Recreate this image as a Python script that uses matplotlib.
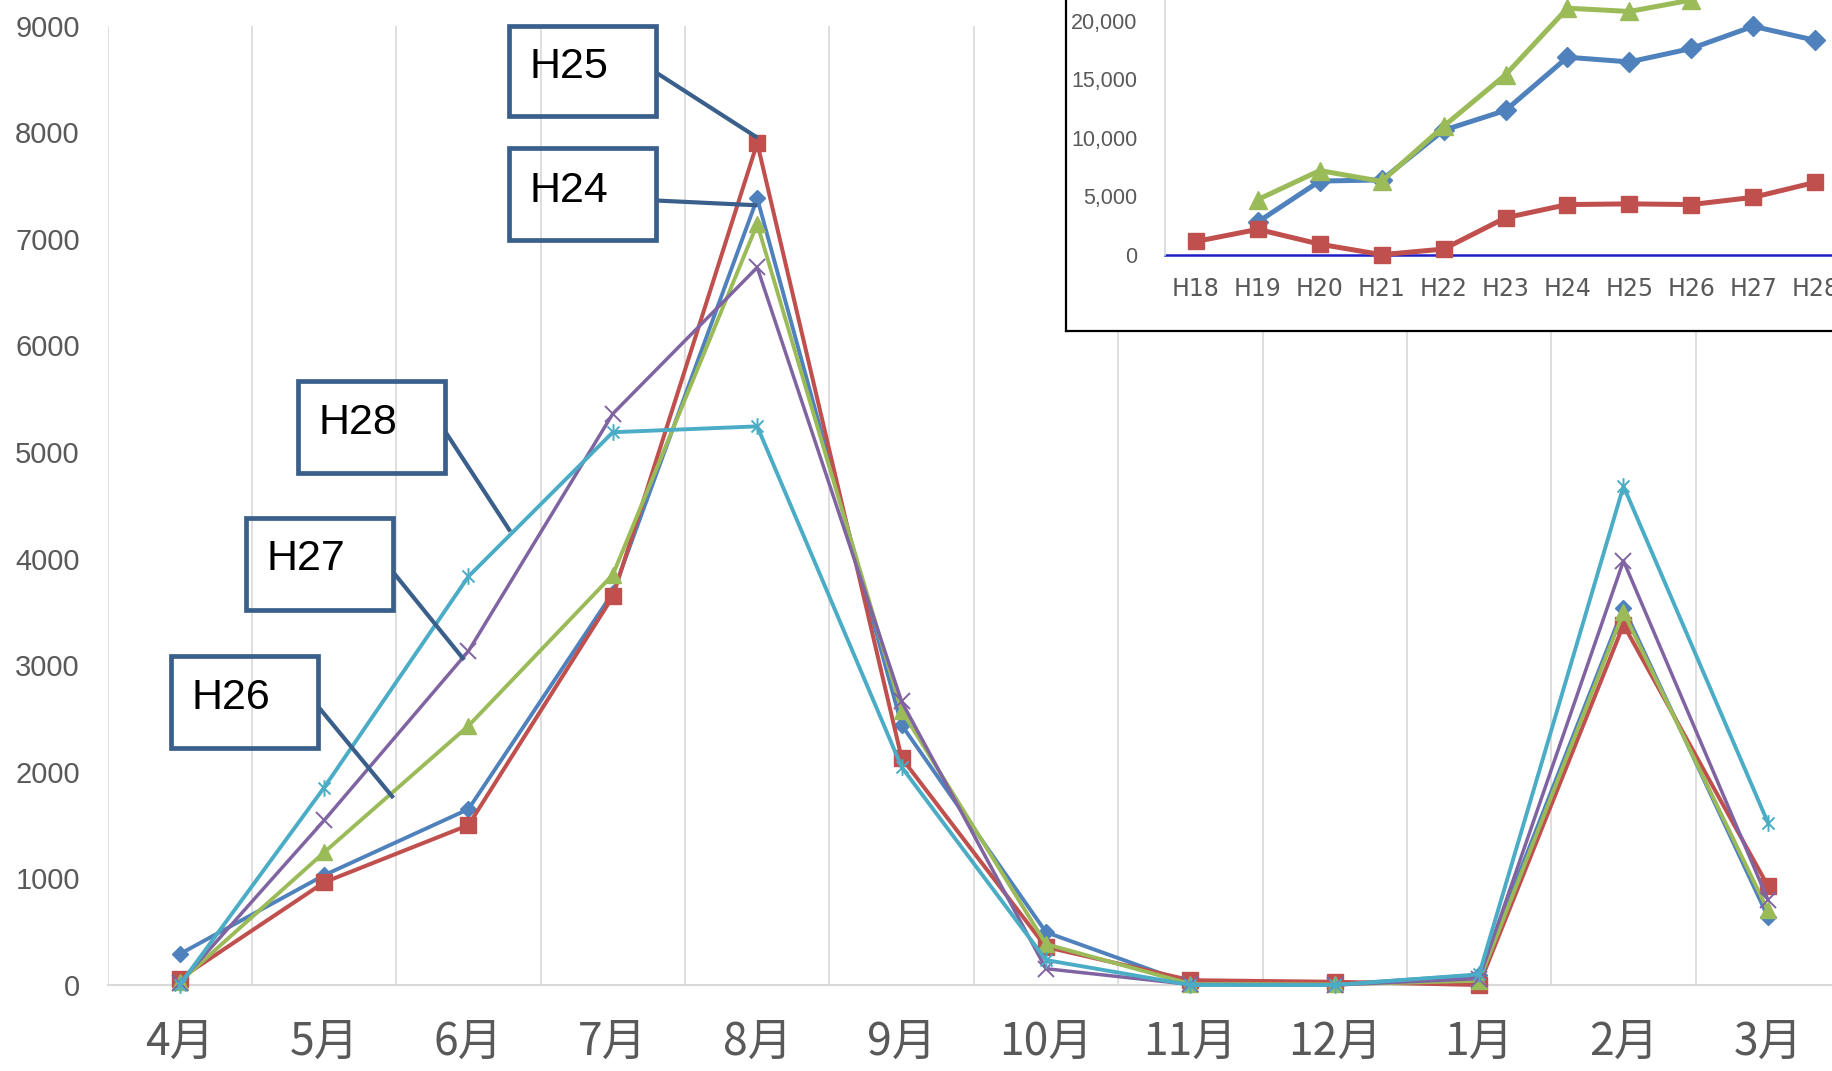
import numpy as np
import matplotlib
matplotlib.use('Agg')
import matplotlib.pyplot as plt
from matplotlib.patches import Rectangle
from matplotlib.path import Path

# 月別データ
months = ['4月', '5月', '6月', '7月', '8月', '9月', '10月', '11月', '12月', '1月', '2月', '3月']
h24 = [290, 1030, 1650, 3680, 7380, 2440, 495, 10, 5, 92, 3540, 640]
h25 = [58, 963, 1500, 3645, 7900, 2130, 356, 45, 30, 0, 3380, 930]
h26 = [30, 1244, 2432, 3849, 7140, 2575, 384, 10, 5, 40, 3497, 700]
h27 = [20, 1544, 3133, 5360, 6732, 2660, 153, 5, 0, 60, 3980, 800]
h28 = [0, 1852, 3833, 5186, 5241, 2045, 234, 0, 0, 100, 4680, 1524]

# 年度別推移 (右上の小さいグラフ)
years = ['H18', 'H19', 'H20', 'H21', 'H22', 'H23', 'H24', 'H25', 'H26', 'H27', 'H28']
trend_blue = [np.nan, 2800, 6300, 6400, 10650, 12350, 16900, 16500, 17650, 19550, 18350]
trend_green = [np.nan, 4720, 7200, 6270, 10990, 15400, 21100, 20820, 21800, 24000, 24500]
trend_red = [1130, 2170, 900, 0, 480, 3160, 4290, 4350, 4290, 4910, 6190]

BLUE = '#4F81BD'
RED = '#C0504D'
GREEN = '#9BBB59'
PURPLE = '#8064A2'
CYAN = '#4BACC6'
GRAY = '#595959'
GRID = '#D9D9D9'
BOXC = '#3A5F8B'

plt.rcParams['font.family'] = ['Liberation Sans', 'DejaVu Sans']

star = Path([(0, -1), (0, 1), (-0.72, -0.72), (0.72, 0.72), (-0.72, 0.72), (0.72, -0.72)],
            [Path.MOVETO, Path.LINETO, Path.MOVETO, Path.LINETO, Path.MOVETO, Path.LINETO])

fig = plt.figure(figsize=(18.32, 10.71), dpi=100)
ax = fig.add_axes([0.0587, 0.0803, 0.9457, 0.8957])

x = np.arange(len(months))
ax.plot(x, h24, color=BLUE, lw=2.8, marker='D', ms=8.5, zorder=3, clip_on=False)
ax.plot(x, h25, color=RED, lw=2.9, marker='s', ms=11.5, zorder=3, clip_on=False)
ax.plot(x, h26, color=GREEN, lw=2.8, marker='^', ms=11.5, zorder=3, clip_on=False)
ax.plot(x, h27, color=PURPLE, lw=2.5, marker='x', ms=11.5, mew=1.4, zorder=3, clip_on=False)
ax.plot(x, h28, color=CYAN, lw=2.8, marker=star, ms=12, mew=1.4, zorder=3, clip_on=False)

ax.set_xlim(-0.5, 11.5)
ax.set_ylim(0, 9000)
ax.set_yticks(range(0, 9001, 1000))
ax.set_xticks(x)
ax.set_xticklabels(months, family=['Noto Sans CJK JP', 'DejaVu Sans'], fontsize=32, color=GRAY)
for lab in ax.get_yticklabels():
    lab.set_fontsize(21)
    lab.set_color(GRAY)
ax.tick_params(axis='both', length=0)
ax.tick_params(axis='y', pad=20)
ax.tick_params(axis='x', pad=24)
ax.set_xticks(np.arange(-0.5, 12, 1), minor=True)
ax.tick_params(which='minor', length=0)
ax.grid(which='minor', axis='x', color=GRID, lw=1.2)
ax.grid(which='major', visible=False)
for s in ['top', 'right', 'left']:
    ax.spines[s].set_visible(False)
ax.spines['bottom'].set_color(GRID)
ax.spines['bottom'].set_linewidth(1.5)

# 吹き出し (ラベル, 枠 x0, x1, y0, y1, 文字 x, 文字 y, 線の始点, 線の終点)
callouts = [
    ('H25', 2.28, 3.30, 8150, 9000, 2.42, 8610, (3.30, 8560), (4.0, 7950)),
    ('H24', 2.28, 3.30, 6985, 7850, 2.42, 7450, (3.30, 7360), (4.0, 7315)),
    ('H28', 0.82, 1.84, 4805, 5670, 0.96, 5270, (1.84, 5190), (2.29, 4255)),
    ('H27', 0.46, 1.48, 3520, 4385, 0.60, 4000, (1.48, 3870), (1.97, 3050)),
    ('H26', -0.06, 0.96, 2225, 3090, 0.08, 2695, (0.96, 2610), (1.48, 1755)),
]
for name, x0, x1, y0, y1, tx, ty, p0, p1 in callouts:
    ax.add_patch(Rectangle((x0, y0), x1 - x0, y1 - y0, fill=False, ec=BOXC, lw=3.4,
                           clip_on=False, zorder=4))
    ax.plot([p0[0], p1[0]], [p0[1], p1[1]], color=BOXC, lw=3, solid_capstyle='butt',
            clip_on=False, zorder=4)
    ax.text(tx, ty, name, fontsize=31, color='black',
            ha='left', va='center', zorder=5)

# 右上の小グラフ
frame = fig.add_axes([0.5817, 0.6912, 0.45, 0.4])
frame.set_facecolor('white')
frame.set_xticks([])
frame.set_yticks([])
for s in frame.spines.values():
    s.set_color('black')
    s.set_linewidth(1.6)
frame.set_zorder(5)

ins = fig.add_axes([0.6359, 0.7622, 0.3718, 0.2727])
ins.set_zorder(6)
ins.patch.set_visible(False)
xi = np.arange(len(years))
ins.axhline(0, color='#1E1EC8', lw=1.8, zorder=2, clip_on=False)
ins.plot(xi, trend_blue, color=BLUE, lw=3.6, marker='D', ms=10, zorder=3, clip_on=False)
ins.plot(xi, trend_green, color=GREEN, lw=3.6, marker='^', ms=13, zorder=3, clip_on=False)
ins.plot(xi, trend_red, color=RED, lw=3.6, marker='s', ms=12, zorder=3, clip_on=False)
ins.set_xlim(-0.5, 10.5)
ins.set_ylim(0, 25000)
ins.set_yticks(range(0, 20001, 5000))
ins.set_yticklabels([f'{v:,}' for v in range(0, 20001, 5000)], fontsize=15.5, color=GRAY)
ins.set_xticks(xi)
ins.set_xticklabels(years, family='DejaVu Sans', fontsize=17, color=GRAY)
ins.tick_params(axis='both', length=0)
ins.tick_params(axis='y', pad=20)
ins.tick_params(axis='x', pad=16)
for s in ['top', 'right', 'bottom']:
    ins.spines[s].set_visible(False)
ins.spines['left'].set_color(GRID)
ins.spines['left'].set_linewidth(1.2)

fig.savefig('out.png', dpi=100)
